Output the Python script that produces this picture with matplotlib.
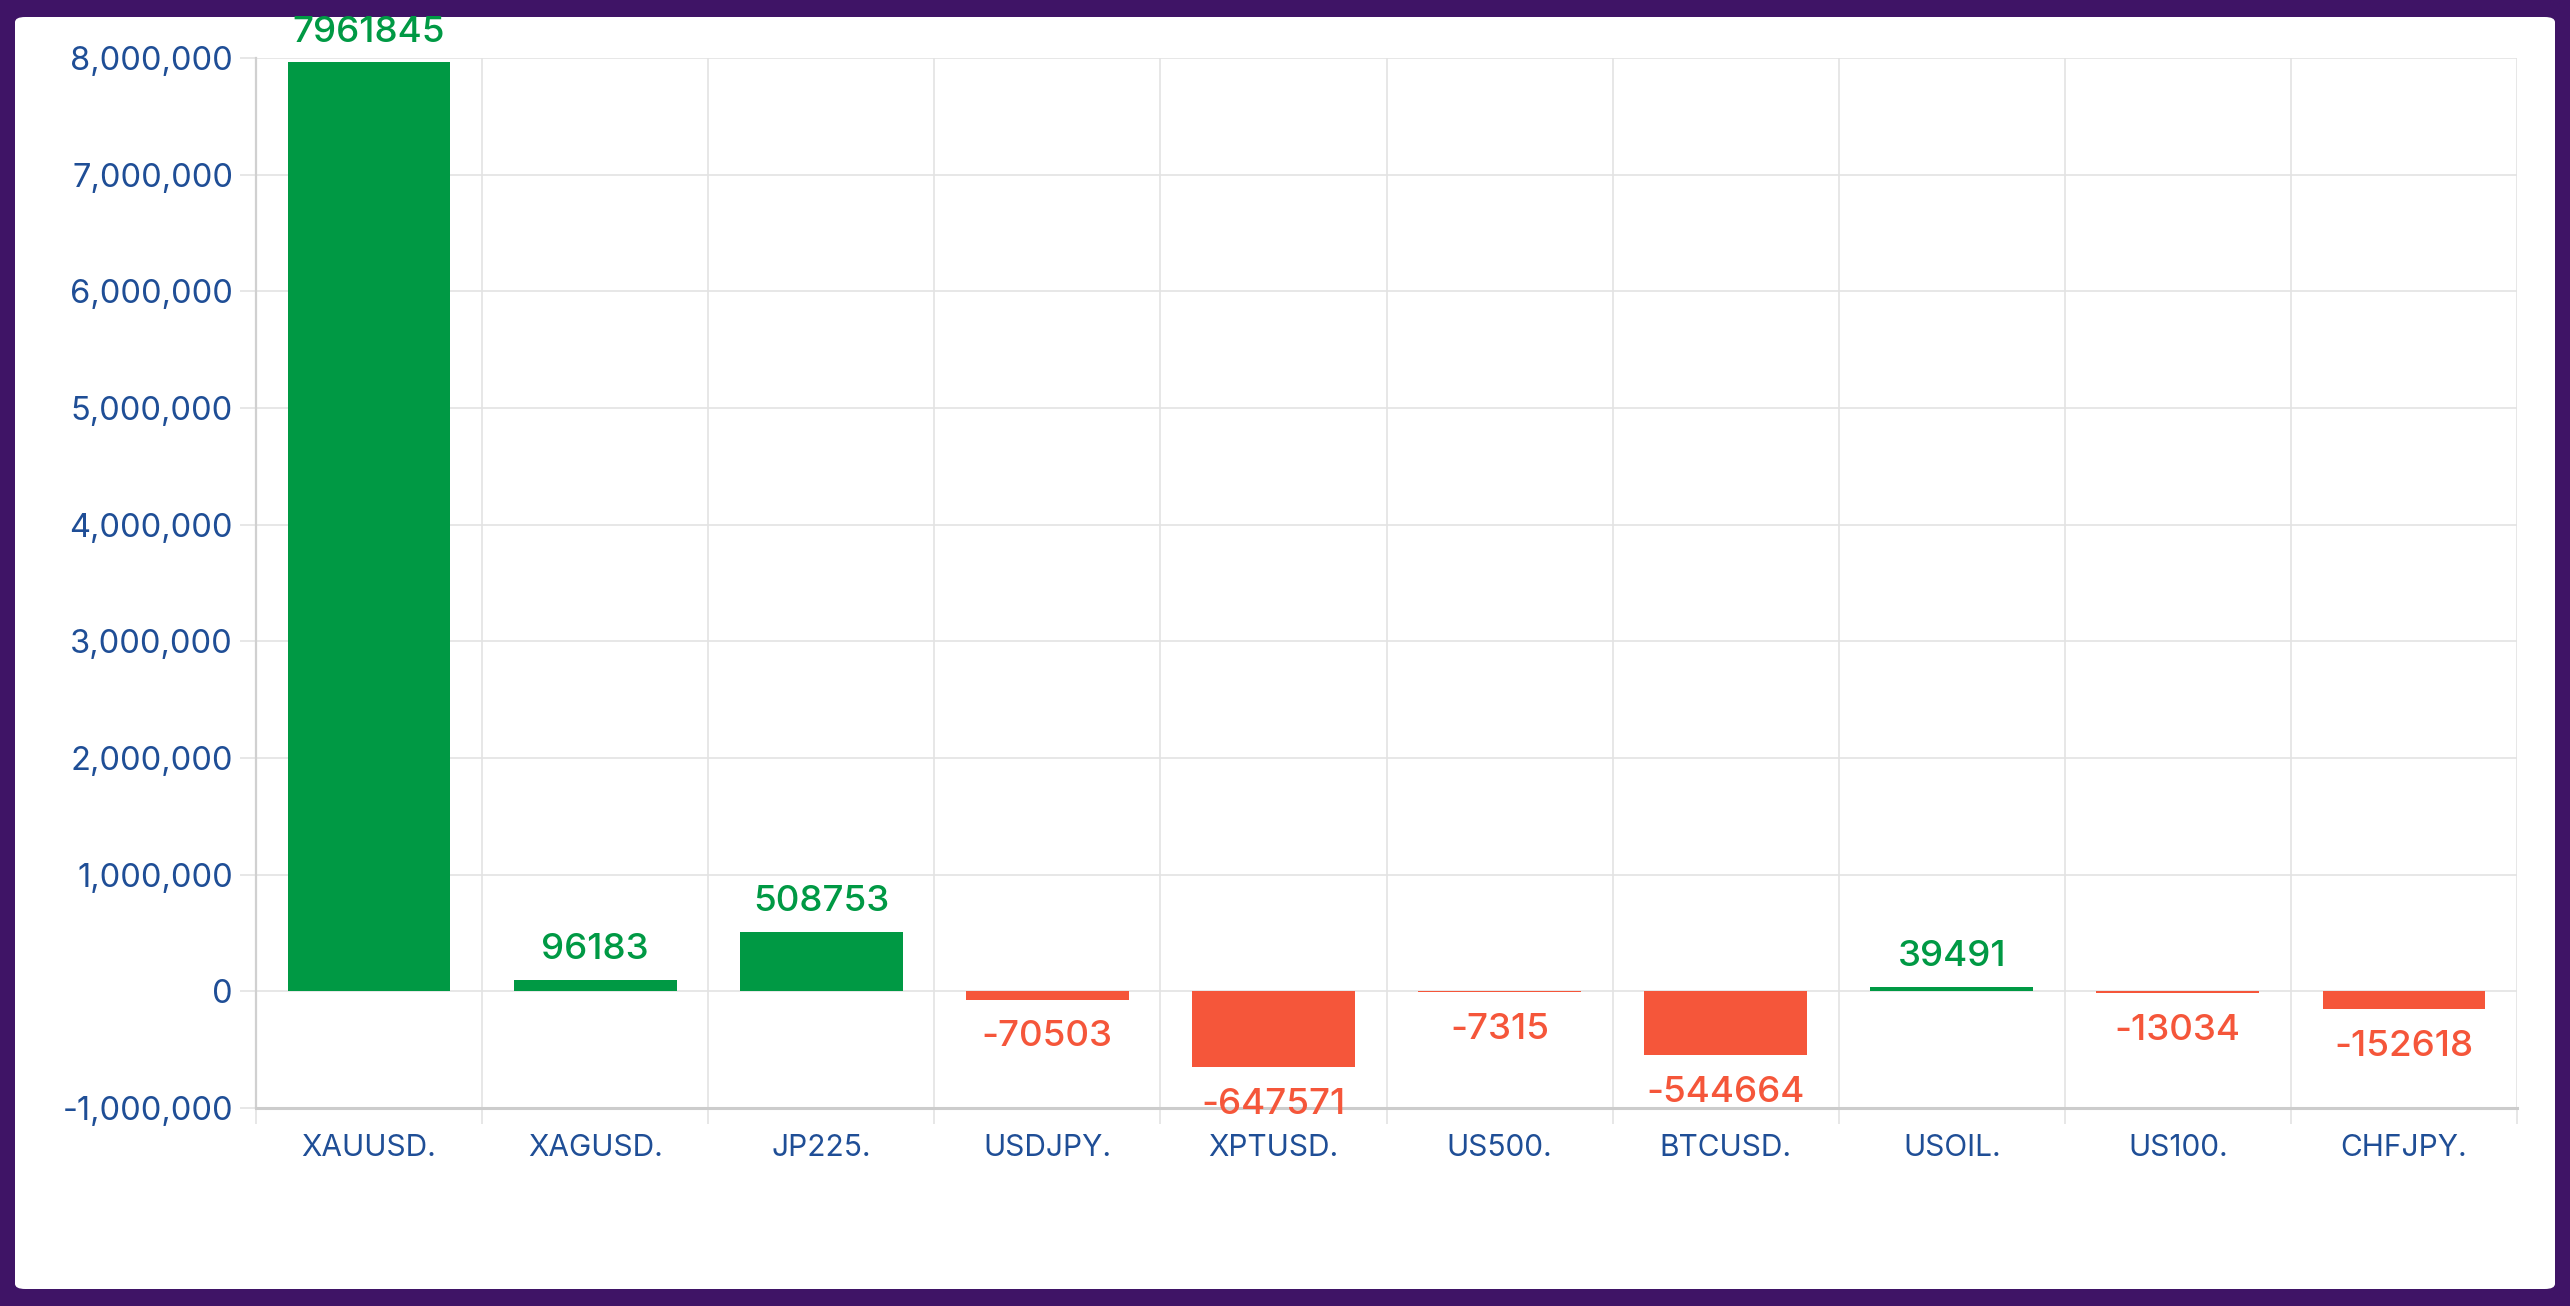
import matplotlib
matplotlib.use("Agg")
import matplotlib.pyplot as plt
from matplotlib.patches import FancyBboxPatch
from matplotlib.ticker import FuncFormatter, MultipleLocator, FixedLocator

categories = ["XAUUSD.", "XAGUSD.", "JP225.", "USDJPY.", "XPTUSD.",
              "US500.", "BTCUSD.", "USOIL.", "US100.", "CHFJPY."]
values = [7961845, 96183, 508753, -70503, -647571,
          -7315, -544664, 39491, -13034, -152618]

GREEN = "#009944"
RED = "#f5563a"
BLUE = "#1f4e96"
PURPLE = "#3f1466"

plt.rcParams['font.family'] = ['Inter', 'DejaVu Sans']

W, H = 2570, 1306
fig = plt.figure(figsize=(W / 100, H / 100), dpi=100, facecolor=PURPLE)

card = FancyBboxPatch((15 / W, 17 / H), (2555 - 15) / W, (1289 - 17) / H,
                      boxstyle="round,pad=0,rounding_size=0.004",
                      transform=fig.transFigure, facecolor="white",
                      edgecolor="none", zorder=-10)
fig.patches.append(card)

left, right, top, bottom = 256, 2517, 58, 1108
ax = fig.add_axes([left / W, (H - bottom) / H, (right - left) / W, (bottom - top) / H])
ax.set_facecolor("white")
ax.set_zorder(1)

x = list(range(len(categories)))
colors = [GREEN if v >= 0 else RED for v in values]
ax.bar(x, values, width=0.72, color=colors, zorder=3)

ax.set_xlim(-0.5, len(categories) - 0.5)
ax.set_ylim(-1000000, 8000000)

ax.yaxis.set_major_locator(MultipleLocator(1000000))
ax.yaxis.set_major_formatter(FuncFormatter(lambda v, p: f"{int(round(v)):,}"))
ax.set_xticks(x)
ax.set_xticklabels(categories)
ax.xaxis.set_minor_locator(FixedLocator([i - 0.5 for i in range(len(categories) + 1)]))

ax.grid(axis="y", which="major", color="#e3e3e3", linewidth=1.2, zorder=0)
ax.grid(axis="x", which="minor", color="#e3e3e3", linewidth=1.2, zorder=0)

ax.tick_params(axis="y", which="major", length=11.5, width=1.2, color="#e3e3e3",
               labelsize=23.5, labelcolor=BLUE, pad=5)
ax.tick_params(axis="x", which="major", length=0, labelsize=21.5, labelcolor=BLUE, pad=19)
ax.tick_params(axis="x", which="minor", length=11.5, width=1.2, color="#e3e3e3")

for s in ["top", "right"]:
    ax.spines[s].set_visible(False)
ax.spines["left"].set_color("#d0d0d0")
ax.spines["left"].set_linewidth(1.6)
ax.spines["bottom"].set_color("#cccccc")
ax.spines["bottom"].set_linewidth(2.2)
ax.spines["bottom"].set_zorder(4)

for xi, v, c in zip(x, values, colors):
    if v >= 0:
        ax.annotate(str(v), (xi, v), xytext=(0, 10), textcoords="offset points",
                    ha="center", va="bottom", color=c, fontsize=26.5,
                    fontweight="medium", zorder=5, annotation_clip=False)
    else:
        ax.annotate(str(v), (xi, v), xytext=(0, -15), textcoords="offset points",
                    ha="center", va="top", color=c, fontsize=26.5,
                    fontweight="medium", zorder=5, annotation_clip=False)

fig.savefig("out.png", dpi=100, facecolor=PURPLE)
